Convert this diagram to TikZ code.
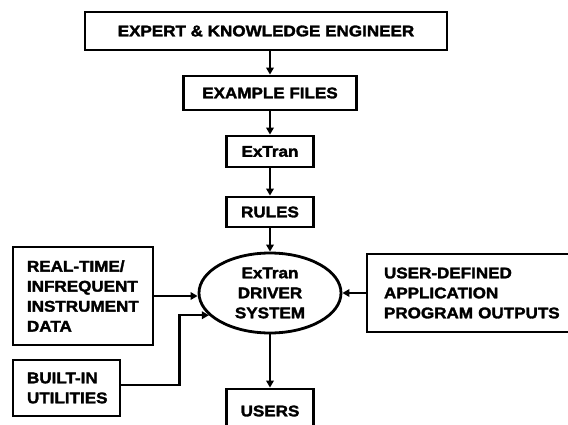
\documentclass[tikz,border=0pt]{standalone}
\usepackage{fontspec}
\setmainfont{Liberation Sans}[FakeStretch=1.1, BoldFeatures={FakeBold=2}]
\usetikzlibrary{arrows.meta,shapes.geometric}
\begin{document}
\begin{tikzpicture}[x=1pt,y=-1pt,
  lbl/.style={font=\bfseries\fontsize{15.5}{20}\selectfont},
  box/.style={draw, line width=2.8pt, inner sep=0pt, lbl},
  conn/.style={line width=2.2pt, -{Triangle[length=7pt,width=7.5pt]}}]
\useasboundingbox (0,0) rectangle (568,425);
\node[box, minimum width=362, minimum height=38] (top) at (266,31) {EXPERT \& KNOWLEDGE ENGINEER};
\node[box, minimum width=173, minimum height=34] (ex) at (270,93) {EXAMPLE FILES};
\node[box, minimum width=87, minimum height=31] (xt) at (270,151.5) {ExTran};
\node[box, minimum width=87, minimum height=30] (ru) at (270,212) {RULES};
\node[ellipse, draw, line width=2.8pt, minimum width=142, minimum height=80, inner sep=0pt, align=center, lbl] (ell) at (270,293) {ExTran\\DRIVER\\SYSTEM};
\node[box, minimum width=140, minimum height=98, text width=112, inner xsep=14, align=left] (rt) at (83,296) {REAL-TIME/\\INFREQUENT\\INSTRUMENT\\DATA};
\node[box, minimum width=107, minimum height=56, text width=79, inner xsep=14, align=left] (bi) at (66.5,388) {BUILT-IN\\UTILITIES};
\node[box, minimum width=233, minimum height=78, text width=199, inner xsep=17, align=left] (ud) at (483.5,293) {USER-DEFINED\\APPLICATION\\PROGRAM OUTPUTS};
\node[box, minimum width=87, minimum height=44] (us) at (270,411) {USERS};
\draw[conn] (top.south -| ex.north) -- (ex.north);
\draw[conn] (ex.south) -- (xt.north);
\draw[conn] (xt.south) -- (ru.north);
\draw[conn] (ru.south) -- (ell.north);
\draw[conn] (rt.east) -- (rt.east -| ell.west);
\draw[conn] ([yshift=3pt]bi.east) -- ++(58,0) |- (ell.200);
\draw[conn] (ud.west) -- (ud.west -| ell.east);
\draw[conn] (ell.south) -- (us.north);
\end{tikzpicture}
\end{document}
